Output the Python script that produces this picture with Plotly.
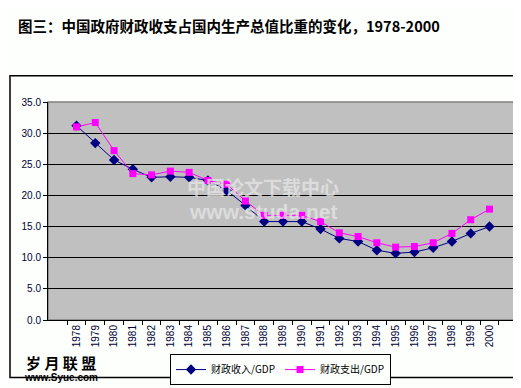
import plotly.graph_objects as go

years = [str(y) for y in range(1978, 2001)]
revenue_gdp = [31.2, 28.4, 25.7, 24.2, 22.9, 23.0, 22.9, 22.4, 20.8, 18.4, 15.8, 15.8, 15.8,
               14.6, 13.1, 12.6, 11.2, 10.7, 10.9, 11.6, 12.6, 13.9, 15.0]
expend_gdp = [31.0, 31.7, 27.2, 23.5, 23.3, 23.9, 23.7, 22.4, 21.8, 19.1, 16.8, 16.8, 16.8,
              15.8, 14.0, 13.4, 12.4, 11.7, 11.8, 12.4, 13.9, 16.1, 17.8]
series_names = ["财政收入/GDP", "财政支出/GDP"]
title_text = "图三：中国政府财政收支占国内生产总值比重的变化，1978-2000"
y_ticks = [0, 5, 10, 15, 20, 25, 30, 35]

W, H = 521, 388
L, R, T, B = 40, 510, 94, 318
def px(x):
    return (x - L) / (R - L)
def py(y):
    return (B - y) / (B - T)

fig = go.Figure()
fig.add_trace(go.Scatter(x=years, y=revenue_gdp, name=series_names[0], mode="lines+markers",
                         line=dict(color="#000080", width=1),
                         marker=dict(symbol="diamond", size=8, color="#000080")))
fig.add_trace(go.Scatter(x=years, y=expend_gdp, name=series_names[1], mode="lines+markers",
                         line=dict(color="#FF00FF", width=1),
                         marker=dict(symbol="square", size=7, color="#FF00FF")))

fig.update_layout(
    width=W, height=H,
    margin=dict(l=L, r=W - R, t=T, b=H - B),
    paper_bgcolor="#FCFFFC",
    plot_bgcolor="#C0C0C0",
    font=dict(family="Liberation Sans, Arial", size=10, color="#000000"),
    showlegend=True,
    legend=dict(orientation="h", x=px(162), y=py(353), xanchor="left", yanchor="top",
                bordercolor="#000000", borderwidth=1, bgcolor="#FCFFFC",
                font=dict(family="Noto Sans CJK SC, Liberation Sans", size=10, color="#000000"),
                itemwidth=30, tracegroupgap=0),
    xaxis=dict(type="category", tickangle=-90, showline=True, linecolor="#000000", linewidth=1,
               ticks="outside", ticklen=4, tickcolor="#000000", tickson="boundaries",
               showgrid=False, tickfont=dict(size=10, family="Liberation Sans, Arial", color="#000033")),
    yaxis=dict(range=[0, 35], tickvals=y_ticks, tickformat=".1f", showline=True,
               linecolor="#000000", linewidth=1, ticks="outside", ticklen=4, tickcolor="#000000",
               showgrid=True, gridcolor="#000000", gridwidth=1, zeroline=False,
               tickfont=dict(size=10, family="Liberation Sans, Arial", color="#000033")),
)

shapes = [
    dict(type="rect", xref="paper", yref="paper", x0=0, x1=1, y0=0, y1=1,
         line=dict(color="#808080", width=1.5), layer="below"),
    dict(type="rect", xref="paper", yref="paper", x0=px(2), x1=px(518), y0=py(377), y1=py(67),
         line=dict(color="#000000", width=1.5), fillcolor="rgba(0,0,0,0)"),
]
fig.update_layout(shapes=shapes)

annotations = [
    dict(text="<b>" + title_text + "</b>", xref="paper", yref="paper", x=px(8), y=py(15),
         xanchor="left", yanchor="middle", showarrow=False,
         font=dict(family="Noto Sans CJK SC", size=14.5, color="#000000")),
    dict(text="<b>中国论文下载中心</b>", xref="paper", yref="paper", x=px(255), y=py(181),
         xanchor="center", yanchor="middle", showarrow=False,
         font=dict(family="Noto Sans CJK SC", size=19, color="rgba(230,230,230,0.75)")),
    dict(text="<b>www.studa.net</b>", xref="paper", yref="paper", x=px(255), y=py(207),
         xanchor="center", yanchor="middle", showarrow=False,
         font=dict(family="Liberation Sans", size=21, color="rgba(230,230,230,0.75)")),
    dict(text="<b>岁 月 联 盟</b>", xref="paper", yref="paper", x=px(16), y=py(362),
         xanchor="left", yanchor="middle", showarrow=False,
         font=dict(family="Noto Sans CJK SC", size=15, color="#000000")),
    dict(text="<b>www.Syue.com</b>", xref="paper", yref="paper", x=px(14), y=py(377),
         xanchor="left", yanchor="middle", showarrow=False,
         font=dict(family="Liberation Sans", size=10, color="#000000")),
]
fig.update_layout(annotations=annotations)

fig.write_html("out.html")
